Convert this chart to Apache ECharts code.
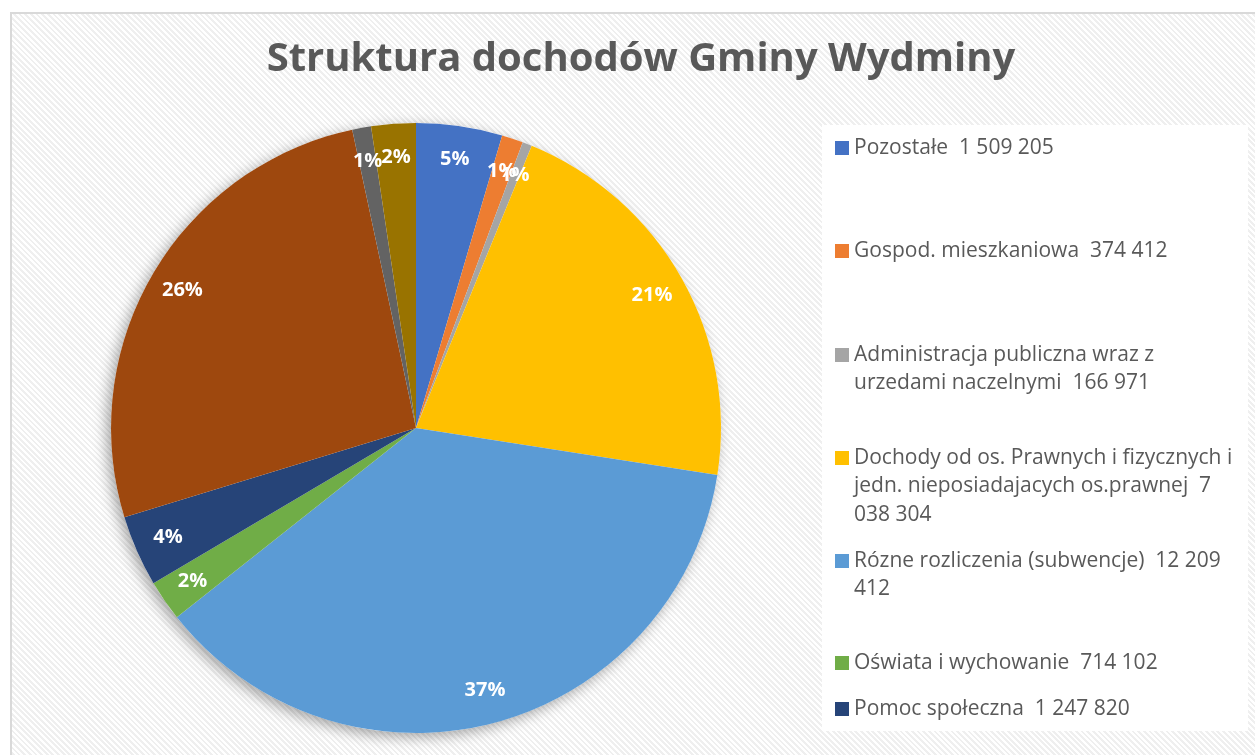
<!DOCTYPE html>
<html>
<head>
<meta charset="utf-8">
<script src="https://cdn.jsdelivr.net/npm/echarts@6/dist/echarts.min.js"></script>
<style>
  html, body { margin: 0; padding: 0; background: #fff; overflow: hidden; }
  /* ramka wykresu z delikatnym wzorem w paski */
  #frame {
    position: absolute; left: 10px; top: 12px; width: 1300px; height: 800px;
    border: 2px solid #d9d9d9;
    background: repeating-linear-gradient(45deg, #ffffff 0 2px, #efefef 2px 4px);
  }
  #chart { position: absolute; left: 0; top: 0; width: 1255px; height: 755px; }
</style>
</head>
<body>
<div id="frame"></div>
<div id="chart"></div>
<script>
// dane
const categories = [
  'Pozostałe',
  'Gospod. mieszkaniowa',
  'Administracja publiczna wraz z urzedami naczelnymi',
  'Dochody od os. Prawnych i fizycznych i jedn. nieposiadajacych os.prawnej',
  'Rózne rozliczenia (subwencje)',
  'Oświata i wychowanie',
  'Pomoc społeczna',
  'Inne 1',
  'Inne 2',
  'Inne 3'
]
const values = [1509205, 374412, 166971, 7038304, 12209412, 714102, 1247820, 8730000, 330000, 780000]
const colors = ['#4472C4', '#ED7D31', '#A5A5A5', '#FFC000', '#5B9BD5', '#70AD47', '#264478', '#9E480E', '#636363', '#997300']

// tekst legendy (z łamaniem linii jak w oryginale)
const legendLines = [
  ['Pozostałe  1 509 205'],
  ['Gospod. mieszkaniowa  374 412'],
  ['Administracja publiczna wraz z', 'urzedami naczelnymi  166 971'],
  ['Dochody od os. Prawnych i fizycznych i', 'jedn. nieposiadajacych os.prawnej  7', '038 304'],
  ['Rózne rozliczenia (subwencje)  12 209', '412'],
  ['Oświata i wychowanie  714 102'],
  ['Pomoc społeczna  1 247 820']
]

const chart = echarts.init(document.getElementById('chart'))

const pieData = categories.map((name, i) => ({
  name: name,
  value: values[i],
  itemStyle: { color: colors[i] }
}))

// środek pierwszej linii każdego wpisu legendy
const LINE_H = 28.5
const legendCenters = [148, 251, 355, 458, 561, 663, 709]
const legends = legendLines.map((lines, i) => {
  const m = lines.length * 2 - 1
  const text = new Array(lines.length - 1).fill('').concat(lines).join('\n')
  return {
    data: [categories[i]],
    left: 835,
    top: legendCenters[i] - LINE_H / 2 * m,
    padding: 0,
    icon: 'rect',
    itemWidth: 14,
    itemHeight: 14,
    selectedMode: false,
    formatter: () => text,
    textStyle: { color: '#595959', fontSize: 21, fontFamily: 'Open Sans', lineHeight: LINE_H }
  }
})

const option = {
  animation: false,
  title: {
    text: 'Struktura dochodów Gminy Wydminy',
    left: 636,
    top: 35,
    textAlign: 'center',
    textStyle: { color: '#595959', fontSize: 40, fontWeight: 'bold', fontFamily: 'Open Sans' }
  },
  graphic: [{
    type: 'rect',
    left: 822, top: 125,
    shape: { width: 426, height: 606 },
    style: { fill: '#ffffff' },
    z: -10
  }],
  legend: legends,
  series: [
    {
      // cień pod kołem
      type: 'pie',
      silent: true,
      center: [416, 428],
      radius: 305,
      label: { show: false },
      data: [{ value: 1, itemStyle: { color: '#ffffff', shadowBlur: 14, shadowColor: 'rgba(0,0,0,0.35)', shadowOffsetX: -4, shadowOffsetY: 4 } }],
      z: 1
    },
    {
      type: 'pie',
      center: [416, 428],
      radius: 305,
      startAngle: 90,
      clockwise: true,
      label: { show: false },
      labelLine: { show: false },
      data: pieData,
      z: 2
    },
    {
      // etykiety procentowe
      type: 'pie',
      silent: true,
      center: [416, 428],
      radius: [240, 296],
      startAngle: 90,
      clockwise: true,
      itemStyle: { color: 'rgba(0,0,0,0)' },
      labelLayout: { hideOverlap: false },
      label: {
        show: true,
        position: 'inside',
        color: '#ffffff',
        fontSize: 20,
        fontWeight: 'bold',
        fontFamily: 'Open Sans',
        formatter: p => Math.round(p.percent) + '%'
      },
      labelLine: { show: false },
      data: categories.map((name, i) => ({ name: name, value: values[i] })),
      z: 3
    }
  ]
}

chart.setOption(option)
</script>
</body>
</html>
